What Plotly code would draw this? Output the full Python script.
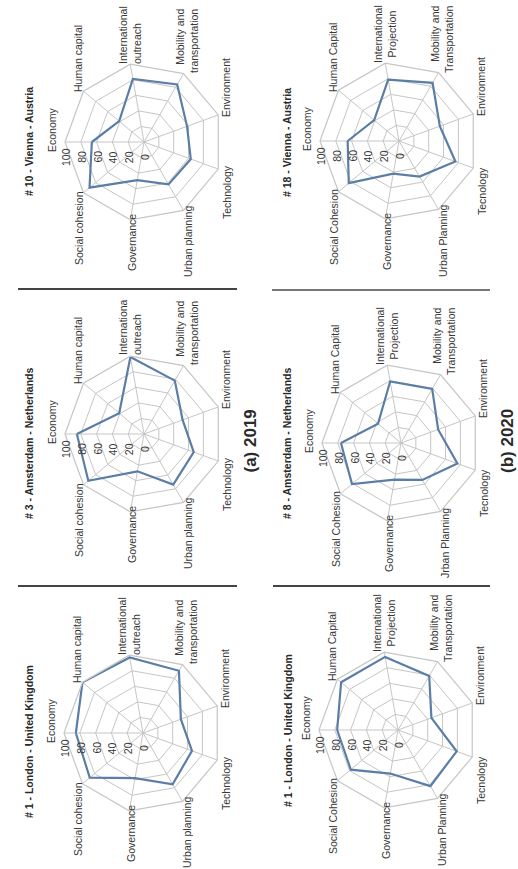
import plotly.graph_objects as go

W, H = 518, 869

# ---------------- data ----------------
cats_2019 = ["Economy", "Human capital", "International outreach",
             "Mobility and transportation", "Environment", "Technology",
             "Urban planning", "Governance", "Social cohesion"]
cats_2020 = ["Economy", "Human Capital", "International Projection",
             "Mobility and Transportation", "Environment", "Tecnology",
             "Urban Planning", "Governance", "Social Cohesion"]

vienna_2019 = [66, 41, 81, 84, 58, 63, 62, 49, 90]
amsterdam_2019 = [85, 41, 99, 78, 52, 67, 74, 48, 92]
london_2019 = [85, 100, 97, 91, 51, 66, 75, 58, 88]
vienna_2020 = [65, 41, 79, 85, 55, 76, 52, 42, 83]
amsterdam_2020 = [76, 38, 79, 79, 50, 76, 54, 47, 81]
london_2020 = [77, 94, 94, 79, 45, 79, 82, 56, 78]

radial_ticks = [0, 20, 40, 60, 80, 100]

titles = ["# 10 - Vienna - Austria", "# 3 - Amsterdam - Netherlands",
          "# 1 - London - United Kingdom", "# 18 - Vienna - Austria",
          "# 8 - Amsterdam - Netherlands", "# 1 - London - United Kingdom"]

labels_2019 = ["Economy", "Human capital", "International<br>outreach",
               "Mobility and<br>transportation", "Environment", "Technology",
               "Urban planning", "Governance", "Social cohesion"]
labels_ams_2019 = ["Economy", "Human capital", "Internationa<br>outreach",
                   "Mobility and<br>transportation", "Environment", "Technology",
                   "Urban planning", "Governance", "Social cohesion"]
labels_2020 = ["Economy", "Human Capital", "International<br>Projection",
               "Mobility and<br>Transportation", "Environment", "Tecnology",
               "Urban Planning", "Governance", "Social Cohesion"]
labels_ams_2020 = ["Economy", "Human Capital", "International<br>Projection",
                   "Mobility and<br>Transportation", "Environment", "Tecnology",
                   "Jrban Planning", "Governance", "Social Cohesion"]

# ---------------- layout geometry (pixels) ----------------
R = 79
panels = [
    dict(c=(144, 142), t=(29, 142), v=vienna_2019, cats=cats_2019, lab=labels_2019, yr=2019),
    dict(c=(144, 434), t=(29, 444), v=amsterdam_2019, cats=cats_2019, lab=labels_ams_2019, yr=2019),
    dict(c=(143, 733), t=(29, 742), v=london_2019, cats=cats_2019, lab=labels_2019, yr=2019),
    dict(c=(399, 141), t=(287, 143), v=vienna_2020, cats=cats_2020, lab=labels_2020, yr=2020),
    dict(c=(401, 443), t=(287, 444), v=amsterdam_2020, cats=cats_2020, lab=labels_ams_2020, yr=2020),
    dict(c=(398, 730), t=(288, 731), v=london_2020, cats=cats_2020, lab=labels_2020, yr=2020),
]
label_off = [(-92, -12), (-66, -83), (-14, -107), (43, -101), (82, -54),
             (83, 50), (44, 100), (-12, 101), (-65, 86)]

LINE = "#5a7ea6"
GRID = "#c6c6c6"
TXT = "#383838"
FONT = "Liberation Sans"

fig = go.Figure()
layout_polars = {}

def txt(xp, yp, text, size=10.5, bold=False, align="center", color=TXT):
    fig.add_annotation(x=xp / W, y=1 - yp / H, xref="paper", yref="paper",
                       text=f"<b>{text}</b>" if bold else text,
                       textangle=-90, showarrow=False, align=align,
                       xanchor="center", yanchor="middle",
                       font=dict(family=FONT, size=size, color=color))

for i, p in enumerate(panels):
    name = "polar" if i == 0 else f"polar{i + 1}"
    cx, cy = p["c"]
    vals = p["v"] + p["v"][:1]
    th = p["cats"] + p["cats"][:1]
    fig.add_trace(go.Scatterpolar(r=vals, theta=th, mode="lines",
                                  line=dict(color=LINE, width=2.2),
                                  subplot=name, showlegend=False))
    layout_polars[name] = dict(
        domain=dict(x=[(cx - R) / W, (cx + R) / W],
                    y=[1 - (cy + R) / H, 1 - (cy - R) / H]),
        bgcolor="white",
        gridshape="linear",
        radialaxis=dict(range=[0, 100], tickvals=radial_ticks[1:],
                        showticklabels=False, ticks="", showline=False,
                        gridcolor=GRID, gridwidth=1.2),
        angularaxis=dict(type="category", categoryarray=p["cats"],
                         rotation=180, direction="clockwise",
                         showticklabels=False, ticks="",
                         gridcolor=GRID, gridwidth=1.2,
                         showline=True, linecolor=GRID, linewidth=1.2),
    )
    for k, lab in enumerate(p["lab"]):
        dx, dy = label_off[k]
        al = "center"
        if k == 2 and p["yr"] == 2019:
            al = "left"
        if k == 3:
            al = "right"
        txt(cx + dx, cy + dy, lab, align=al)
    for v in radial_ticks:
        txt(cx - R * v / 100 + 1, cy + 15, str(v))
    txt(p["t"][0], p["t"][1], titles[i], size=10.5, bold=True, color="#2a2a2a")

txt(249.5, 441, "(a) 2019", size=17, bold=True, color="#2a2a2a")
txt(507, 441, "(b) 2020", size=17, bold=True, color="#2a2a2a")

shapes = [
    dict(type="line", xref="paper", yref="paper", x0=18 / W, x1=237 / W,
         y0=1 - 289 / H, y1=1 - 289 / H, line=dict(color="#444", width=2)),
    dict(type="line", xref="paper", yref="paper", x0=18 / W, x1=237 / W,
         y0=1 - 586 / H, y1=1 - 586 / H, line=dict(color="#444", width=2)),
    dict(type="line", xref="paper", yref="paper", x0=272 / W, x1=490 / W,
         y0=1 - 290 / H, y1=1 - 290 / H, line=dict(color="#777", width=2)),
    dict(type="line", xref="paper", yref="paper", x0=273 / W, x1=490 / W,
         y0=1 - 586 / H, y1=1 - 586 / H, line=dict(color="#444", width=2)),
]

fig.update_layout(width=W, height=H, autosize=False,
                  margin=dict(l=0, r=0, t=0, b=0),
                  paper_bgcolor="white", plot_bgcolor="white",
                  template="none", showlegend=False, shapes=shapes,
                  **layout_polars)

fig.write_html("out.html")
